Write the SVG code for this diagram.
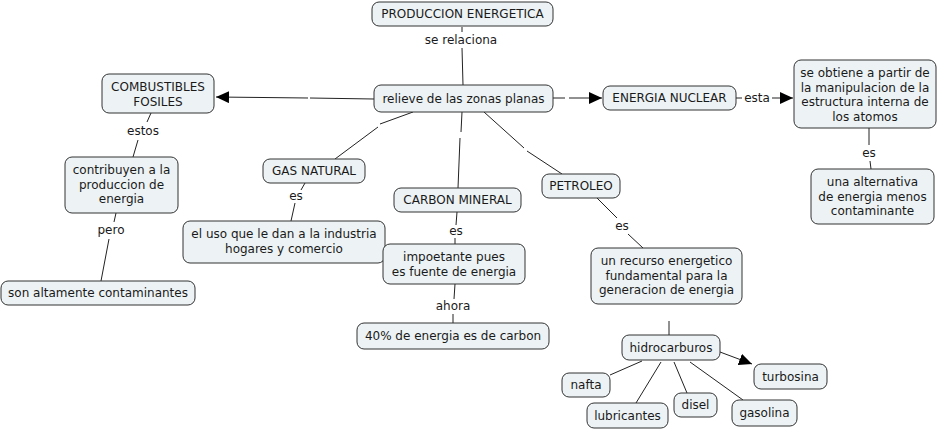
<svg xmlns="http://www.w3.org/2000/svg" width="941" height="430" viewBox="0 0 941 430">
<style>
.n rect{fill:#edf3f5;stroke:#333;stroke-width:1}
text{font-family:"DejaVu Sans",Verdana,sans-serif;font-size:12px;fill:#1a1a1a;text-anchor:middle}
.c line{stroke:#222;stroke-width:1}
.lbl{font-size:12px}
</style>
<defs>
<marker id="ah" markerWidth="14" markerHeight="12" refX="13" refY="6" orient="auto" markerUnits="userSpaceOnUse">
<path d="M0,0 L13,6 L0,12 Z" fill="#000"/>
</marker>
</defs>
<rect width="941" height="430" fill="#fff"/>
<g class="c" id="connectors">
<line x1="462" y1="27" x2="462" y2="32"/>
<line x1="462" y1="48" x2="463" y2="85"/>
<line x1="374" y1="99" x2="310" y2="98"/>
<line x1="308" y1="98" x2="216" y2="97" marker-end="url(#ah)"/>
<line x1="151" y1="113" x2="147" y2="122"/>
<line x1="138" y1="140" x2="133" y2="157"/>
<line x1="116" y1="213" x2="114" y2="222"/>
<line x1="109" y1="239" x2="101" y2="281"/>
<line x1="413" y1="112" x2="380" y2="124"/>
<line x1="378" y1="127" x2="335" y2="159"/>
<line x1="305" y1="183" x2="301" y2="190"/>
<line x1="295" y1="203" x2="291" y2="221"/>
<line x1="462" y1="112" x2="461" y2="132"/>
<line x1="460" y1="138" x2="458" y2="188"/>
<line x1="457" y1="212" x2="456" y2="225"/>
<line x1="455" y1="238" x2="455" y2="244"/>
<line x1="455" y1="284" x2="454" y2="299"/>
<line x1="453" y1="314" x2="453" y2="323"/>
<line x1="484" y1="112" x2="524" y2="148"/>
<line x1="527" y1="151" x2="562" y2="174"/>
<line x1="597" y1="198" x2="617" y2="218"/>
<line x1="628" y1="234" x2="643" y2="248"/>
<line x1="669" y1="321" x2="669" y2="335"/>
<line x1="642" y1="361" x2="610" y2="375"/>
<line x1="661" y1="362" x2="636" y2="403"/>
<line x1="674" y1="362" x2="687" y2="393"/>
<line x1="690" y1="362" x2="743" y2="400"/>
<line x1="720" y1="352" x2="752" y2="364" marker-end="url(#ah)"/>
<line x1="553" y1="98" x2="565" y2="98"/>
<line x1="569" y1="98" x2="602" y2="98" marker-end="url(#ah)"/>
<line x1="736" y1="98" x2="742" y2="98"/>
<line x1="772" y1="98" x2="793" y2="98" marker-end="url(#ah)"/>
<line x1="869" y1="128" x2="869" y2="145"/>
<line x1="870" y1="161" x2="871" y2="169"/>
<text class="lbl" x="461" y="44">se relaciona</text>
<text class="lbl" x="143" y="135">estos</text>
<text class="lbl" x="111" y="234">pero</text>
<text class="lbl" x="296" y="200">es</text>
<text class="lbl" x="456" y="235">es</text>
<text class="lbl" x="453" y="310">ahora</text>
<text class="lbl" x="622" y="230">es</text>
<text class="lbl" x="757" y="102">esta</text>
<text class="lbl" x="869" y="157">es</text>
</g>
<g class="n" id="n-produccion"><rect x="372" y="2" width="181" height="24" rx="7"/><text x="462.5" y="18">PRODUCCION ENERGETICA</text></g>
<g class="n" id="n-relieve"><rect x="374" y="85" width="179" height="27" rx="7"/><text x="463.5" y="103">relieve de las zonas planas</text></g>
<g class="n" id="n-combustibles"><rect x="102" y="74" width="112" height="39" rx="7"/><text x="158" y="91">COMBUSTIBLES</text><text x="158" y="105.5">FOSILES</text></g>
<g class="n" id="n-contribuyen"><rect x="65" y="157" width="113" height="56" rx="7"/><text x="121.5" y="174">contribuyen a la</text><text x="121.5" y="188.5">produccion de</text><text x="121.5" y="203">energia</text></g>
<g class="n" id="n-son"><rect x="1" y="281" width="194" height="24" rx="7"/><text x="98" y="297">son altamente contaminantes</text></g>
<g class="n" id="n-gas"><rect x="263" y="159" width="102" height="24" rx="7"/><text x="314" y="175">GAS NATURAL</text></g>
<g class="n" id="n-uso"><rect x="183" y="221" width="202" height="42" rx="7"/><text x="284" y="238">el uso que le dan a la industria</text><text x="284" y="252.5">hogares y comercio</text></g>
<g class="n" id="n-carbon"><rect x="394" y="188" width="127" height="24" rx="7"/><text x="457.5" y="204">CARBON MINERAL</text></g>
<g class="n" id="n-impoetante"><rect x="383" y="244" width="142" height="40" rx="7"/><text x="454" y="261">impoetante pues</text><text x="454" y="275.5">es fuente de energia</text></g>
<g class="n" id="n-40"><rect x="357" y="323" width="192" height="26" rx="7"/><text x="453" y="340">40% de energia es de carbon</text></g>
<g class="n" id="n-petroleo"><rect x="542" y="174" width="78" height="24" rx="7"/><text x="581" y="190">PETROLEO</text></g>
<g class="n" id="n-recurso"><rect x="591" y="248" width="151" height="56" rx="7"/><text x="666.5" y="265">un recurso energetico</text><text x="666.5" y="279.5">fundamental para la</text><text x="666.5" y="294">generacion de energia</text></g>
<g class="n" id="n-hidrocarburos"><rect x="622" y="335" width="98" height="25" rx="7"/><text x="671" y="352">hidrocarburos</text></g>
<g class="n" id="n-nafta"><rect x="562" y="373" width="48" height="24" rx="7"/><text x="586" y="389">nafta</text></g>
<g class="n" id="n-lubricantes"><rect x="587" y="403" width="81" height="25" rx="7"/><text x="627.5" y="420">lubricantes</text></g>
<g class="n" id="n-disel"><rect x="674" y="393" width="43" height="24" rx="7"/><text x="695.5" y="409">disel</text></g>
<g class="n" id="n-gasolina"><rect x="732" y="400" width="65" height="26" rx="7"/><text x="764.5" y="417">gasolina</text></g>
<g class="n" id="n-turbosina"><rect x="754" y="364" width="73" height="25" rx="7"/><text x="790.5" y="381">turbosina</text></g>
<g class="n" id="n-nuclear"><rect x="603" y="86" width="133" height="24" rx="7"/><text x="669.5" y="102">ENERGIA NUCLEAR</text></g>
<g class="n" id="n-obtiene"><rect x="794" y="60" width="142" height="68" rx="7"/><text x="865" y="77">se obtiene a partir de</text><text x="865" y="91.5">la manipulacion de la</text><text x="865" y="106">estructura interna de</text><text x="865" y="120.5">los atomos</text></g>
<g class="n" id="n-alternativa"><rect x="811" y="169" width="123" height="55" rx="7"/><text x="872.5" y="186">una alternativa</text><text x="872.5" y="200.5">de energia menos</text><text x="872.5" y="215">contaminante</text></g>
</svg>
